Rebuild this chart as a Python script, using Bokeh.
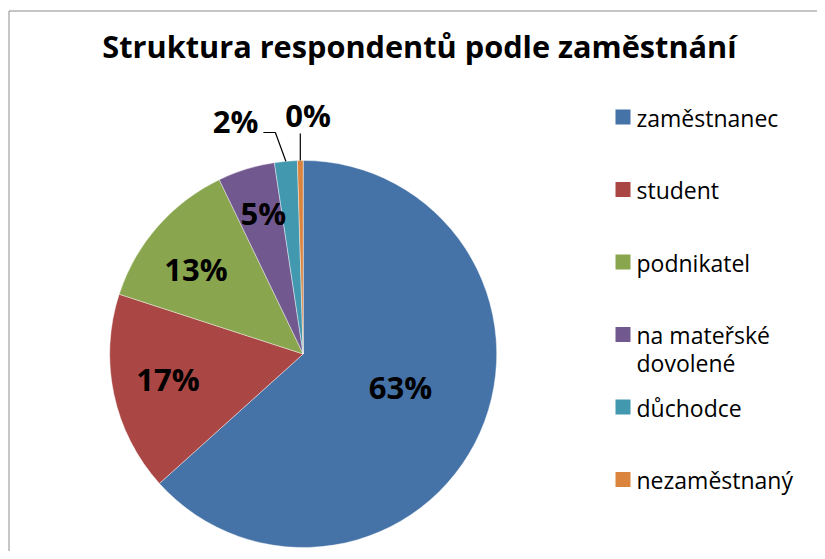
import math
from bokeh.plotting import figure
from bokeh.models import Range1d, ColumnDataSource
from bokeh.core.properties import value
from bokeh.embed import file_html
from bokeh.resources import INLINE

# ---- data ----
title = "Struktura respondentů podle zaměstnání"
categories = ["zaměstnanec", "student", "podnikatel", "na mateřské dovolené", "důchodce", "nezaměstnaný"]
counts = [133, 35, 27, 10, 4, 1]
colors = ["#4572A7", "#AA4643", "#89A54E", "#71588F", "#4198AF", "#DB843D"]

# ---- layout (screen pixels) ----
W, H = 817, 551
def Y(py):
    return H - py

CX, CY, R = 302.7, 353.5, 193.5
FONT = "Open Sans"
LBL_SHIFT = 11.5   # baseline correction for 31px bold labels
TTL_SHIFT = 11.0
LEG_SHIFT = 8.0

p = figure(width=W, height=H, x_range=Range1d(0, W), y_range=Range1d(0, H),
           min_border=0, toolbar_location=None, output_backend="svg",
           x_axis_location=None, y_axis_location=None, outline_line_color=None)
p.grid.visible = False
p.background_fill_color = "white"
p.border_fill_color = "white"

# chart border (top and left visible)
p.segment(x0=[8.5, 8.5], y0=[Y(10.5), Y(10.5)], x1=[8.5, 830], y1=[Y(600), Y(10.5)],
          line_color="#8C8C8C", line_width=1)

total = float(sum(counts))
fr = [c / total for c in counts]
cum = [0.0]
for f in fr:
    cum.append(cum[-1] + f)
start = [math.pi / 2 - 2 * math.pi * cum[i] for i in range(len(fr))]
end = [math.pi / 2 - 2 * math.pi * cum[i + 1] for i in range(len(fr))]
pct = [f"{round(100 * f):d}%" for f in fr]

src = ColumnDataSource(dict(cat=categories, start=start, end=end, color=colors, pct=pct))
p.wedge(x=CX, y=Y(CY), radius=R, start_angle="start", end_angle="end", direction="clock",
        fill_color="color", line_color="white", line_width=0.6, line_alpha=0.7, source=src)

# labels inside slices
rad_f = [0.532, 0.711, 0.705, 0.755]
dtheta = [-5.0, 1.3, -2.9, 1.3]
lx, ly, lt = [], [], []
for i in range(4):
    mid = (cum[i] + cum[i + 1]) / 2 * 360 + dtheta[i]
    t = math.radians(mid)
    px = CX + rad_f[i] * R * math.sin(t)
    pyy = CY - rad_f[i] * R * math.cos(t)
    lx.append(px)
    ly.append(Y(pyy + 11 - LBL_SHIFT))
    lt.append(pct[i])
p.text(x=lx, y=ly, text=lt, text_font=value(FONT), text_font_style="bold",
       text_font_size="31px", text_align="center", text_baseline="alphabetic", text_color="black")

# outside labels with leader lines (small slices)
for i, (elbow_dx, elbow_y, end_dx, tx, ty, align) in zip(
        [4, 5],
        [(-10.5, 132, -22.5, 258, 132, "right"), (0, 133, 0, 307.5, 125.5, "center")]):
    mid = math.radians((cum[i] + cum[i + 1]) / 2 * 360)
    ex = CX + R * math.sin(mid)
    ey = CY - R * math.cos(mid)
    xs = [ex, ex + elbow_dx, ex + end_dx]
    ys = [Y(ey), Y(elbow_y), Y(elbow_y)]
    p.line(x=xs, y=ys, line_color="black", line_width=1.2)
    p.text(x=[tx], y=[Y(ty - LBL_SHIFT)], text=[pct[i]], text_font=value(FONT), text_font_style="bold",
           text_font_size="31px", text_align=align, text_baseline="alphabetic", text_color="black")

# title
p.text(x=[419], y=[Y(56 - TTL_SHIFT)], text=[title], text_font=value(FONT), text_font_style="bold",
       text_font_size="30.7px", text_align="center", text_baseline="alphabetic", text_color="black")

# legend
LX, LY0, LDY, SQ = 622.5, 116.5, 72.5, 15
lgx, lgy, lgc = [], [], []
tx_, ty_, tt_ = [], [], []
for i, c in enumerate(categories):
    cy = LY0 + LDY * i
    lgx.append(LX)
    lgy.append(Y(cy))
    lgc.append(colors[i])
    lines = ["na mateřské", "dovolené"] if c == "na mateřské dovolené" else [c]
    for j, ln in enumerate(lines):
        tx_.append(636)
        ty_.append(Y(cy + 8.5 + 28 * j - LEG_SHIFT))
        tt_.append(ln)
p.rect(x=lgx, y=lgy, width=SQ, height=SQ, fill_color=lgc, line_color=None)
p.text(x=tx_, y=ty_, text=tt_, text_font=value(FONT), text_font_size="23px",
       text_align="left", text_baseline="alphabetic", text_color="black")

open("out.html", "w").write(file_html(p, INLINE))
